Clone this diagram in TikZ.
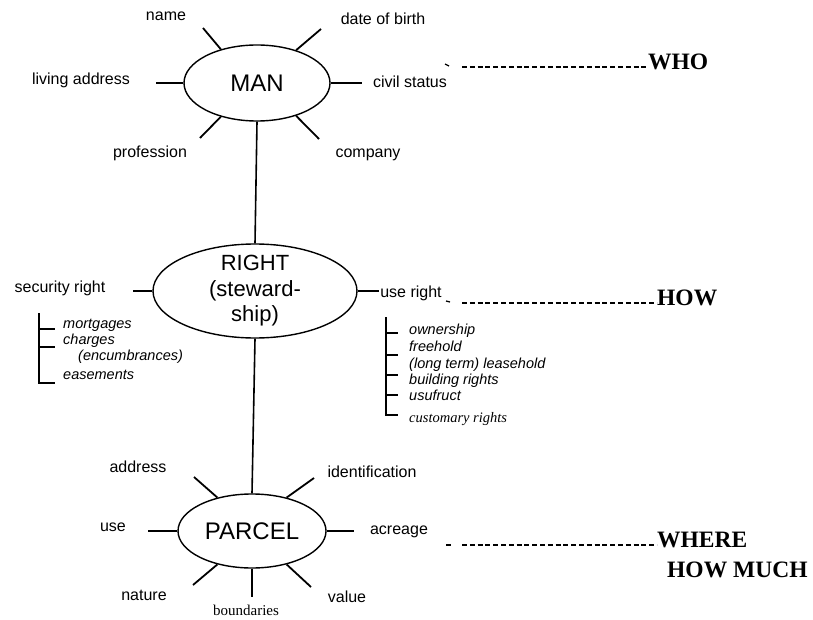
\documentclass[tikz,border=0pt]{standalone}
\usepackage{fontspec}
\setmainfont{Liberation Sans}
\newfontfamily\seriffont{Liberation Serif}
\usetikzlibrary{shapes.geometric}

\tikzset{
  entity/.style={ellipse, draw, line width=1.4pt, inner sep=0pt},
  spoke/.style={line width=1.8pt},
  link/.style={line width=1.6pt},
  bracket/.style={line width=1.3pt},
  attr/.style={inner sep=0pt, anchor=mid, font=\fontsize{16}{19}\selectfont},
  subitem/.style={inner sep=0pt, anchor=mid west, font=\fontsize{14.5}{17}\selectfont\itshape},
  leader/.style={line width=1.5pt, dash pattern=on 5pt off 2.8pt},
  question/.style={inner sep=0pt, anchor=mid west, font=\seriffont\bfseries\fontsize{23.5}{27}\selectfont},
}

\begin{document}
\begin{tikzpicture}[x=1pt, y=-1pt]
\useasboundingbox[fill=white] (0,0) rectangle (813,620);

% ---------- MAN ----------
\node[entity, minimum width=146pt, minimum height=76pt,
      font=\fontsize{24}{28}\selectfont] (man) at (257,83) {MAN};

\coordinate (o-name) at (203,28);
\coordinate (o-dob) at (321,29);
\coordinate (o-live) at (156,83);
\coordinate (o-civil) at (362,83);
\coordinate (o-prof) at (200,138);
\coordinate (o-comp) at (319,139);

\draw[spoke] (man.137) -- (o-name);
\draw[spoke] (man.40) -- (o-dob);
\draw[spoke] (man.west) -- (o-live);
\draw[spoke] (man.east) -- (o-civil);
\draw[spoke] (man.223) -- (o-prof);
\draw[spoke] (man.-40) -- (o-comp);

\node[attr] (l-name) at (166,18) {name};
\node[attr] (l-dob) at (383,22) {date of birth};
\node[attr] (l-live) at (81,82) {living address};
\node[attr] (l-civil) at (410,85) {civil status};
\node[attr] (l-prof) at (150,155) {profession};
\node[attr] (l-comp) at (368,155) {company};

% ---------- RIGHT ----------
\node[entity, minimum width=204pt, minimum height=94pt,
      label={[align=center, inner sep=0pt, font=\fontsize{22}{25.5}\selectfont]center:RIGHT\\(steward-\\ship)}]
      (right) at (255,291) {};

\draw[link] (man.south) -- (right.north);

\coordinate (o-sec) at (133,291);
\coordinate (o-use) at (379,291);
\draw[spoke] (right.west) -- (o-sec);
\draw[spoke] (right.east) -- (o-use);

\node[attr] (l-sec) at (60,290) {security right};
\node[attr] (l-use) at (411,295) {use right};

% security right sub-items
\draw[bracket] (39,313) -- (39,383) -- (55,383);
\draw[bracket] (39,329) -- (55,329);
\draw[bracket] (39,347) -- (55,347);
\node[subitem] (s-mort) at (63,326) {mortgages};
\node[subitem] (s-charg) at (63,342) {charges};
\node[subitem] (s-encum) at (78,358) {(encumbrances)};
\node[subitem] (s-ease) at (63,377) {easements};

% use right sub-items
\draw[bracket] (386,317) -- (386,415) -- (398,415);
\foreach \yy in {333,355,375,395} \draw[bracket] (386,\yy) -- (398,\yy);
\node[subitem] (u-own) at (409,332) {ownership};
\node[subitem] (u-free) at (409,349) {freehold};
\node[subitem] (u-lease) at (409,366) {(long term) leasehold};
\node[subitem] (u-build) at (409,382) {building rights};
\node[subitem] (u-usu) at (409,398) {usufruct};
\node[subitem, font=\seriffont\itshape\fontsize{14.5}{17}\selectfont] (u-cust) at (409,420) {customary rights};

% ---------- PARCEL ----------
\node[entity, minimum width=148pt, minimum height=74pt,
      font=\fontsize{24}{28}\selectfont] (parcel) at (252,531) {PARCEL};

\draw[link] (right.south) -- (parcel.north);

\coordinate (o-addr) at (194,477);
\coordinate (o-ident) at (314,478);
\coordinate (o-pu) at (148,531);
\coordinate (o-acre) at (354,531);
\coordinate (o-nat) at (193,585);
\coordinate (o-bound) at (252,597);
\coordinate (o-val) at (311,587);

\draw[spoke] (parcel.136) -- (o-addr);
\draw[spoke] (parcel.44) -- (o-ident);
\draw[spoke] (parcel.west) -- (o-pu);
\draw[spoke] (parcel.east) -- (o-acre);
\draw[spoke] (parcel.224) -- (o-nat);
\draw[spoke] (parcel.south) -- (o-bound);
\draw[spoke] (parcel.-44) -- (o-val);

\node[attr] (p-addr) at (138,470) {address};
\node[attr] (p-ident) at (372,475) {identification};
\node[attr] (p-use) at (113,529) {use};
\node[attr] (p-acre) at (399,532) {acreage};
\node[attr] (p-nat) at (144,598) {nature};
\node[attr, font=\seriffont\fontsize{15}{17}\selectfont] (p-bound) at (246,613) {boundaries};
\node[attr] (p-val) at (347,600) {value};

% ---------- questions ----------
\node[question] (who) at (648,67) {WHO};
\node[question] (how) at (657,303) {HOW};
\node[question] (where) at (657,545) {WHERE};
\node[question] (howmuch) at (667,575) {HOW MUCH};

\coordinate (d-who) at (462,67);
\coordinate (d-how) at (462,303);
\coordinate (d-where) at (462,545);
\draw[leader] (d-who) -- (who.mid west);
\draw[leader] (d-how) -- (how.mid west);
\draw[leader] (d-where) -- (where.mid west);
\draw[line width=1.3pt] (445,64) -- (449,66);
\draw[line width=1.3pt] (446,301) -- (450,302);
\draw[line width=1.3pt] (446,545) -- (451,545);
\end{tikzpicture}
\end{document}
